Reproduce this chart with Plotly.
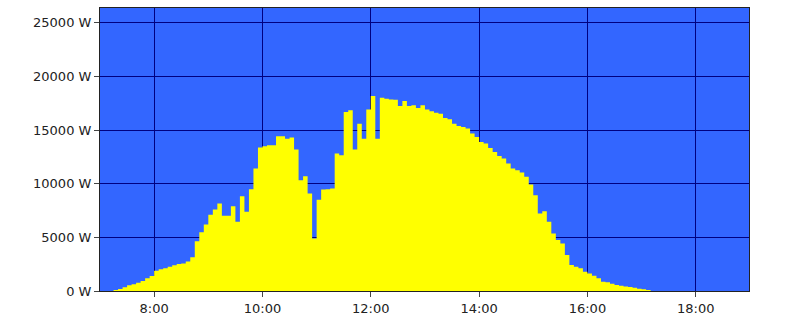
import pandas as pd
import plotly.graph_objects as go

# 5-minute power readings (W), starting at 07:00
start_time = "2024-06-01 07:00"
interval = "5min"
power_w = [
    0, 0, 0, 90, 190, 340, 530, 620, 780, 930,
    1180, 1400, 1890, 2020, 2110, 2260, 2390, 2510, 2570, 2760,
    3150, 4640, 5480, 6200, 7100, 7600, 8160, 7010, 7010, 7910,
    6450, 8840, 7380, 9490, 11410, 13370, 13490, 13580, 13580, 14420,
    14420, 14200, 14300, 13180, 10330, 10700, 9090, 4900, 8500, 9460,
    9490, 9550, 12810, 12650, 16690, 16840, 13180, 15600, 14200, 16930,
    18170, 14200, 18020, 17930, 17860, 17830, 17240, 17710, 17240, 17310,
    17060, 17310, 16930, 16750, 16620, 16530, 16130, 16000, 15600, 15380,
    15290, 15140, 14670, 14360, 13890, 13740, 13330, 12960, 12590, 12350,
    11880, 11420, 11260, 11040, 10640, 9930, 8930, 7230, 7440, 6450,
    5370, 4750, 4430, 3350, 2420, 2260, 2110, 1800, 1640, 1430,
    1180, 870, 810, 680, 560, 500, 430, 370, 310, 210,
    160, 90, 0,
]

x_range = ["2024-06-01 07:00", "2024-06-01 18:59"]
x_tick0 = "2024-06-01 08:00"
y_range = [0, 26380]
y_ticks = [0, 5000, 10000, 15000, 20000, 25000]
y_tick_labels = ["0 W", "5000 W", "10000 W", "15000 W", "20000 W", "25000 W"]

times = pd.date_range(start=start_time, periods=len(power_w), freq=interval)

fig = go.Figure()
fig.add_trace(go.Scatter(
    x=times,
    y=power_w,
    mode="lines",
    line=dict(shape="hv", width=0, color="#ffff00"),
    fill="tozeroy",
    fillcolor="#ffff00",
    hoverinfo="skip",
    showlegend=False,
))

axis_font = dict(family="DejaVu Sans, Verdana, sans-serif", size=13, color="#222222")

fig.update_layout(
    width=800,
    height=320,
    margin=dict(l=100, r=51, t=8, b=29, autoexpand=False),
    paper_bgcolor="#ffffff",
    plot_bgcolor="#3366ff",
    showlegend=False,
)
fig.update_xaxes(
    type="date",
    range=x_range,
    tick0=x_tick0,
    dtick=2 * 3600 * 1000,
    tickformat="%-H:%M",
    showgrid=True,
    gridcolor="#000080",
    gridwidth=1,
    ticks="outside",
    ticklen=5,
    tickcolor="#444444",
    showline=True,
    linecolor="#222222",
    linewidth=1,
    mirror=True,
    tickfont=axis_font,
    zeroline=False,
    automargin=False,
)
fig.update_yaxes(
    range=y_range,
    tickvals=y_ticks,
    ticktext=y_tick_labels,
    showgrid=True,
    gridcolor="#000080",
    gridwidth=1,
    ticks="outside",
    ticklen=5,
    tickcolor="#444444",
    showline=True,
    linecolor="#222222",
    linewidth=1,
    mirror=True,
    tickfont=axis_font,
    zeroline=False,
    automargin=False,
)

fig.write_html("out.html")
